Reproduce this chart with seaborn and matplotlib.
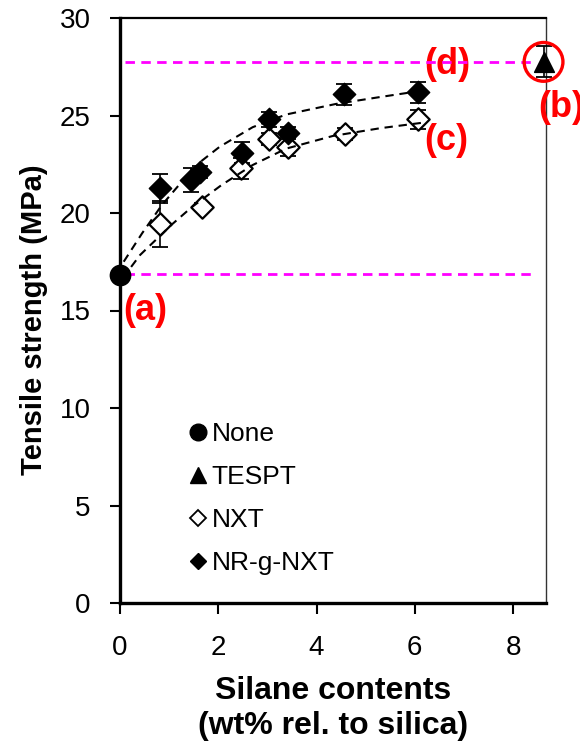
import numpy as np
import pandas as pd
import matplotlib
matplotlib.use("Agg")
import matplotlib.pyplot as plt
import seaborn as sns
from matplotlib.lines import Line2D

# ---- data ----
none_x = [0.0]
none_y = [16.8]

tespt_x = [8.62]
tespt_y = [27.75]
tespt_err = [0.8]

nxt_x = [0.81, 1.66, 2.47, 3.04, 3.41, 4.58, 6.06]
nxt_y = [19.44, 20.29, 22.29, 23.78, 23.40, 24.05, 24.80]
nxt_err = [1.2, 0.2, 0.55, 0.3, 0.48, 0.3, 0.5]

nrg_x = [0.81, 1.45, 1.62, 2.49, 3.04, 3.41, 4.56, 6.06]
nrg_y = [21.27, 21.70, 22.10, 23.10, 24.80, 24.10, 26.09, 26.19]
nrg_err = [0.75, 0.6, 0.3, 0.55, 0.4, 0.3, 0.55, 0.53]

# fitted trend curves
fit_nrg_x = [0.0, 0.075, 0.45, 0.85, 1.29, 1.65, 2.03, 2.70, 3.38, 4.39, 5.30, 6.22]
fit_nrg_y = [16.8, 17.5, 18.96, 20.4, 21.7, 22.65, 23.4, 24.4, 25.05, 25.59, 25.95, 26.3]
fit_nxt_x = [0.0, 0.18, 0.41, 1.05, 1.46, 2.07, 2.70, 3.38, 4.33, 5.30, 6.22]
fit_nxt_y = [16.8, 17.08, 17.85, 19.4, 20.3, 21.44, 22.46, 23.3, 23.95, 24.35, 24.65]

# reference levels
ref_x = [0.1, 8.45]
ref_none = [16.85, 16.85]
ref_tespt = [27.73, 27.73]

x_ticks = [0, 2, 4, 6, 8]
y_ticks = [0, 5, 10, 15, 20, 25, 30]
legend_labels = ["None", "TESPT", "NXT", "NR-g-NXT"]

# ---- style ----
sns.set_theme(style="ticks")
plt.rcParams["font.family"] = ["Liberation Sans", "DejaVu Sans"]
plt.rcParams["text.color"] = "black"
plt.rcParams["axes.labelcolor"] = "black"

fig = plt.figure(figsize=(5.8, 7.46), dpi=100)
ax = fig.add_axes([120 / 580, 1 - 603 / 746, 426 / 580, 585 / 746])

# fit curves
for fx, fy in ((fit_nrg_x, fit_nrg_y), (fit_nxt_x, fit_nxt_y)):
    sns.lineplot(x=fx, y=fy, ax=ax, color="black", lw=1.5,
                 linestyle=(0, (4, 2.8)), sort=False, estimator=None, zorder=6)

# magenta reference lines
for yy in (ref_none, ref_tespt):
    sns.lineplot(x=ref_x, y=yy, ax=ax, color="#FF00FF", lw=2.0,
                 linestyle=(0, (3.4, 2.3)), sort=False, estimator=None, zorder=4)

# error bars
ekw = dict(fmt="none", ecolor="black", elinewidth=1.2, capsize=6, capthick=1.3, zorder=3)
ax.errorbar(nxt_x, nxt_y, yerr=nxt_err, **ekw)
ax.errorbar(nrg_x, nrg_y, yerr=nrg_err, **ekw)
ax.errorbar(tespt_x, tespt_y, yerr=tespt_err, clip_on=False, **ekw)

# points
sns.scatterplot(x=nxt_x, y=nxt_y, ax=ax, marker="D", s=130, facecolor="white",
                edgecolor="black", linewidth=1.6, zorder=5)
sns.scatterplot(x=nrg_x, y=nrg_y, ax=ax, marker="D", s=130, color="black",
                edgecolor="black", linewidth=1.0, zorder=5)
sns.scatterplot(x=none_x, y=none_y, ax=ax, marker="o", s=210, color="black",
                edgecolor="black", zorder=7, clip_on=False)
sns.scatterplot(x=tespt_x, y=tespt_y, ax=ax, marker="^", s=200, color="black",
                edgecolor="black", zorder=7, clip_on=False)
# red highlight circle
sns.scatterplot(x=tespt_x, y=tespt_y, ax=ax, marker="o", s=780, facecolor="none",
                edgecolor="#FF0000", linewidth=2.4, zorder=8, clip_on=False)

# annotations
tkw = dict(color="#FF0000", fontsize=26, fontweight="bold", va="center", zorder=3)
ax.text(0.06, 15.0, "(a)", ha="left", clip_on=False, **tkw)
ax.text(8.52, 25.4, "(b)", ha="left", clip_on=False, **tkw)
ax.text(6.65, 23.7, "(c)", ha="center", **tkw)
ax.text(6.67, 27.6, "(d)", ha="center", **tkw)

# legend
handles = [
    Line2D([], [], marker="o", ls="none", color="black", markersize=12),
    Line2D([], [], marker="^", ls="none", color="black", markersize=12),
    Line2D([], [], marker="D", ls="none", markerfacecolor="white",
           markeredgecolor="black", markeredgewidth=1.3, markersize=8.5),
    Line2D([], [], marker="D", ls="none", color="black", markersize=8.5),
]
ax.legend(handles, legend_labels, loc="upper left", bbox_to_anchor=(0.1685, 0.309),
          frameon=False, fontsize=19, handlelength=0.5, handletextpad=0.25,
          labelspacing=0.72, borderpad=0, borderaxespad=0, labelcolor="black")

# axes
ax.set_xlim(0, 8.67)
ax.set_ylim(0, 30)
ax.set_xticks(x_ticks)
ax.set_yticks(y_ticks)
ax.tick_params(axis="x", direction="out", length=8, width=1.5, labelsize=20, pad=15, colors="black")
ax.tick_params(axis="y", direction="out", length=7, width=1.5, labelsize=20, pad=14, colors="black")
for side in ("left", "bottom"):
    ax.spines[side].set_linewidth(2.4)
    ax.spines[side].set_color("black")
ax.spines["top"].set_linewidth(1.6)
ax.spines["top"].set_color("black")
ax.spines["right"].set_linewidth(1.0)
ax.spines["right"].set_color("#333333")
ax.spines["top"].set_visible(True)
ax.spines["right"].set_visible(True)

ax.set_xlabel("Silane contents\n(wt% rel. to silica)", fontsize=23, fontweight="bold",
              labelpad=11, linespacing=1.2, color="black")
ax.set_ylabel("Tensile strength (MPa)", fontsize=21, fontweight="bold", color="black")
ax.yaxis.set_label_coords(-0.168, 0.485)

fig.savefig("out.png", dpi=100)
